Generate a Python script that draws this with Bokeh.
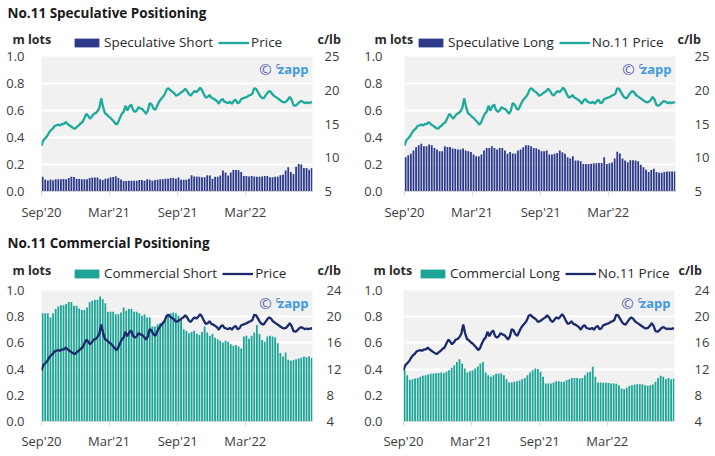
import pandas as pd
from bokeh.plotting import figure
from bokeh.layouts import column, row
from bokeh.models import (Range1d, LinearAxis, FixedTicker, Legend, LegendItem,
                          Label, PrintfTickFormatter, DatetimeTickFormatter)
from bokeh.embed import file_html
from bokeh.resources import INLINE

# ---------------- data ----------------
START = "2020-09-01"
X_END = "2022-08-28"

TICK_DATES = ["2020-09-01", "2021-03-01", "2021-09-01", "2022-03-01"]
TICK_LABELS = ["Sep'20", "Mar'21", "Sep'21", "Mar'22"]

LOT_TICKS = [0.0, 0.2, 0.4, 0.6, 0.8, 1.0]
PRICE_TICKS_TOP = [5, 10, 15, 20, 25]
PRICE_TICKS_BOTTOM = [4, 8, 12, 16, 20, 24]

# No.11 price, c/lb, one reading every 5 days from Sep'20
PRICE = [11.8, 12.6, 12.9, 13.2, 13.7, 14.1, 14.3, 14.7, 14.8, 14.9,
         14.8, 15.0, 15.0, 15.3, 15.0, 14.8, 14.6, 14.4, 14.3, 14.6,
         14.8, 15.1, 15.3, 15.9, 16.5, 16.2, 15.8, 16.1, 16.5, 16.6,
         16.9, 17.4, 18.8, 17.5, 16.6, 16.4, 16.1, 15.9, 15.6, 15.3,
         14.9, 15.2, 15.9, 16.5, 16.8, 17.7, 17.0, 17.6, 17.9, 17.1,
         16.8, 17.0, 17.5, 17.3, 17.2, 16.9, 16.5, 17.0, 18.1, 17.9,
         17.3, 17.1, 17.7, 18.3, 18.7, 19.0, 19.4, 20.1, 20.3, 20.0,
         19.8, 19.6, 19.2, 19.3, 19.5, 19.7, 19.9, 20.2, 19.9, 19.4,
         19.2, 19.6, 19.9, 19.7, 20.0, 20.4, 20.0, 19.4, 18.9, 19.0,
         19.3, 18.9, 18.8, 18.6, 18.4, 18.0, 18.5, 18.7, 18.3, 18.2,
         18.1, 18.3, 18.0, 18.4, 18.6, 18.1, 18.2, 18.7, 18.8, 18.9,
         19.0, 19.2, 19.3, 19.5, 20.3, 20.2, 19.7, 19.2, 18.9, 18.8,
         19.2, 19.6, 19.9, 19.7, 19.3, 19.1, 18.9, 18.7, 18.5, 18.3,
         18.2, 18.3, 18.6, 19.0, 18.6, 17.8, 17.7, 17.9, 18.2, 18.4,
         18.3, 18.1, 18.2, 18.1, 18.2, 18.2]

# weekly positions, million lots
SPEC_SHORT = [0.11, 0.088, 0.082, 0.088, 0.083, 0.09, 0.09, 0.09, 0.092, 0.09,
              0.10, 0.11, 0.108, 0.095, 0.093, 0.09, 0.09, 0.09, 0.10, 0.104,
              0.104, 0.104, 0.09, 0.086, 0.095, 0.097, 0.105, 0.108, 0.113, 0.10,
              0.088, 0.078, 0.078, 0.08, 0.08, 0.08, 0.08, 0.085, 0.085, 0.08,
              0.09, 0.087, 0.08, 0.085, 0.087, 0.09, 0.09, 0.095, 0.095, 0.10,
              0.10, 0.095, 0.104, 0.087, 0.087, 0.087, 0.095, 0.12, 0.112, 0.112,
              0.11, 0.105, 0.105, 0.12, 0.118, 0.095, 0.11, 0.11, 0.118, 0.155,
              0.14, 0.118, 0.14, 0.16, 0.16, 0.158, 0.145, 0.115, 0.115, 0.112,
              0.115, 0.112, 0.11, 0.11, 0.112, 0.115, 0.115, 0.105, 0.105, 0.11,
              0.11, 0.12, 0.124, 0.155, 0.18, 0.145, 0.13, 0.184, 0.204, 0.20,
              0.174, 0.174, 0.162, 0.174]

SPEC_LONG = [0.254, 0.269, 0.279, 0.303, 0.328, 0.343, 0.353, 0.336, 0.336, 0.348,
             0.343, 0.323, 0.311, 0.299, 0.299, 0.336, 0.33, 0.33, 0.318, 0.316,
             0.311, 0.311, 0.318, 0.303, 0.299, 0.293, 0.274, 0.261, 0.261, 0.274,
             0.303, 0.323, 0.323, 0.336, 0.323, 0.311, 0.323, 0.323, 0.303, 0.279,
             0.293, 0.281, 0.281, 0.303, 0.311, 0.328, 0.343, 0.343, 0.336, 0.323,
             0.32, 0.311, 0.299, 0.299, 0.303, 0.274, 0.274, 0.279, 0.286, 0.303,
             0.29, 0.28, 0.254, 0.244, 0.261, 0.229, 0.229, 0.224, 0.204, 0.204,
             0.204, 0.206, 0.209, 0.209, 0.211, 0.211, 0.254, 0.204, 0.209, 0.214,
             0.244, 0.294, 0.281, 0.244, 0.229, 0.216, 0.231, 0.231, 0.229, 0.224,
             0.199, 0.179, 0.162, 0.144, 0.159, 0.169, 0.144, 0.139, 0.139, 0.144,
             0.149, 0.149, 0.149, 0.149]

COMM_SHORT = [0.827, 0.827, 0.827, 0.794, 0.827, 0.858, 0.878, 0.888, 0.888, 0.896,
              0.913, 0.913, 0.883, 0.883, 0.863, 0.852, 0.852, 0.870, 0.913, 0.921,
              0.929, 0.929, 0.954, 0.934, 0.903, 0.837, 0.837, 0.837, 0.819, 0.819,
              0.832, 0.870, 0.845, 0.858, 0.858, 0.837, 0.837, 0.827, 0.807, 0.819,
              0.794, 0.794, 0.725, 0.725, 0.743, 0.751, 0.761, 0.776, 0.807, 0.827,
              0.832, 0.827, 0.807, 0.776, 0.705, 0.690, 0.674, 0.684, 0.692, 0.670,
              0.660, 0.684, 0.725, 0.680, 0.654, 0.667, 0.640, 0.628, 0.616, 0.603,
              0.616, 0.608, 0.590, 0.578, 0.583, 0.573, 0.557, 0.649, 0.654, 0.634,
              0.654, 0.679, 0.735, 0.667, 0.623, 0.608, 0.649, 0.654, 0.649, 0.641,
              0.598, 0.522, 0.496, 0.527, 0.471, 0.463, 0.470, 0.475, 0.481, 0.487,
              0.496, 0.490, 0.496, 0.485]

COMM_LONG = [0.392, 0.354, 0.316, 0.323, 0.328, 0.333, 0.341, 0.349, 0.354, 0.359,
             0.364, 0.366, 0.369, 0.371, 0.374, 0.369, 0.379, 0.392, 0.41, 0.43,
             0.455, 0.476, 0.443, 0.405, 0.374, 0.384, 0.392, 0.405, 0.42, 0.443,
             0.455, 0.374, 0.354, 0.341, 0.354, 0.364, 0.366, 0.366, 0.354, 0.323,
             0.298, 0.298, 0.303, 0.308, 0.313, 0.323, 0.333, 0.354, 0.374, 0.392,
             0.405, 0.40, 0.379, 0.341, 0.29, 0.29, 0.29, 0.298, 0.308, 0.308,
             0.303, 0.303, 0.316, 0.323, 0.333, 0.333, 0.333, 0.328, 0.333, 0.354,
             0.374, 0.379, 0.417, 0.341, 0.298, 0.298, 0.295, 0.295, 0.293, 0.29,
             0.29, 0.288, 0.277, 0.252, 0.247, 0.257, 0.272, 0.277, 0.282, 0.285,
             0.285, 0.285, 0.277, 0.272, 0.277, 0.282, 0.303, 0.333, 0.349, 0.341,
             0.323, 0.333, 0.323, 0.328]

# ---------------- styling ----------------
FONT = "Open Sans"
NAVY = "#2d3a8c"
NAVY_LINE = "#1b2a6b"
TEAL = "#1ca596"
TEAL_LINE = "#1eaa9a"
BG = "#f1f1f1"
TXT = "#3c3c3c"
LAB = "#2a2a2a"
TOTAL_W = 714

price_dates = pd.date_range(START, periods=len(PRICE), freq="5D")


def week_dates(n):
    return pd.date_range(START, periods=n, freq="7D") + pd.Timedelta(days=3)


tick_ms = [pd.Timestamp(d).value / 1e6 for d in TICK_DATES]
overrides = {t: lab for t, lab in zip(tick_ms, TICK_LABELS)}
BAR_W = 4.8 * 24 * 3600 * 1000


def lbl(p, text, x, y, size="13px", color=TXT, bold=False, align="left",
        units="screen"):
    p.add_layout(Label(x=x, y=y, x_units=units, y_units=units, text=text,
                       text_font=FONT, text_font_size=size, text_color=color,
                       text_font_style="bold" if bold else "normal",
                       text_align=align, text_baseline="middle"))


def header(height, title, title_y, specs):
    """Band above a row of charts: section title, unit labels and legends."""
    h = figure(width=TOTAL_W, height=height, x_range=Range1d(0, TOTAL_W),
               y_range=Range1d(0, height), output_backend="svg",
               toolbar_location=None, x_axis_location=None, y_axis_location=None,
               min_border=0)
    h.outline_line_color = None
    h.background_fill_color = "white"
    h.border_fill_color = "white"
    h.grid.visible = False
    if title:
        lbl(h, title, 7, title_y, size="13.5px", color="#1a1a1a", bold=True, units="data")
    for (lx, rx, ly, gx, gy, values, bl, bc, ll, lc) in specs:
        lbl(h, "m lots", lx, ly, size="12.5px", color=LAB, bold=True, units="data")
        lbl(h, "c/lb", rx, ly, size="12.5px", color=LAB, bold=True, units="data")
        # the series themselves, hidden here: they only give the legend its keys
        rb = h.vbar(x=week_dates(len(values)), top=values, width=1,
                    fill_color=bc, line_color=None, visible=False)
        rl = h.line(x=price_dates, y=PRICE, line_color=lc, line_width=2.3,
                    visible=False)
        leg = Legend(items=[LegendItem(label=bl, renderers=[rb]),
                            LegendItem(label=ll, renderers=[rl])],
                     location=(gx, gy), orientation="horizontal",
                     background_fill_alpha=0, border_line_alpha=0,
                     label_text_font=FONT, label_text_font_size="13.5px",
                     label_text_color=LAB, glyph_width=31, glyph_height=11,
                     label_height=12, label_standoff=2, spacing=5, padding=0,
                     margin=0, click_policy="none")
        h.add_layout(leg)
    return h


def panel(values, bar_color, line_color, prange, pticks, width, height,
          mb_left, mb_right, mb_top, mb_bottom, lstand, rstand, xstand):
    frame_w = 271
    frame_h = height - mb_top - mb_bottom
    p = figure(width=width, height=height, x_axis_type="datetime",
               x_range=Range1d(pd.Timestamp(START), pd.Timestamp(X_END)),
               y_range=Range1d(0, 1), output_backend="svg", toolbar_location=None,
               min_border_left=mb_left, min_border_right=mb_right,
               min_border_top=mb_top, min_border_bottom=mb_bottom)
    p.outline_line_color = None
    p.background_fill_color = BG
    p.border_fill_alpha = 0
    p.extra_y_ranges = {"price": Range1d(prange[0], prange[-1])}

    p.vbar(x=week_dates(len(values)), top=values, width=BAR_W,
           fill_color=bar_color, line_color=None)
    p.line(x=price_dates, y=PRICE, y_range_name="price",
           line_color=line_color, line_width=2.3)

    xa = p.xaxis[0]
    xa.ticker = FixedTicker(ticks=tick_ms)
    xa.formatter = DatetimeTickFormatter(days="%b'%y", months="%b'%y", years="%b'%y")
    xa.major_label_overrides = overrides
    xa.axis_line_color = "#d6d6d6"
    xa.major_tick_line_color = "#d6d6d6"
    xa.major_tick_out = 4
    xa.major_tick_in = 0
    xa.minor_tick_line_color = None
    xa.major_label_standoff = xstand
    xa.major_label_text_font = FONT
    xa.major_label_text_font_size = "13px"
    xa.major_label_text_color = TXT

    ya = p.yaxis[0]
    ya.ticker = FixedTicker(ticks=LOT_TICKS)
    ya.formatter = PrintfTickFormatter(format="%.1f")
    ya.axis_line_color = None
    ya.major_tick_line_color = None
    ya.minor_tick_line_color = None
    ya.major_label_standoff = lstand
    ya.major_label_text_font = FONT
    ya.major_label_text_font_size = "13px"
    ya.major_label_text_color = TXT

    ra = LinearAxis(y_range_name="price", ticker=FixedTicker(ticks=pticks))
    ra.axis_line_color = None
    ra.major_tick_line_color = None
    ra.minor_tick_line_color = None
    ra.major_label_standoff = rstand
    ra.major_label_text_font = FONT
    ra.major_label_text_font_size = "13px"
    ra.major_label_text_color = TXT
    p.add_layout(ra, "right")

    p.xgrid.grid_line_color = None
    p.ygrid.ticker = FixedTicker(ticks=LOT_TICKS)
    p.ygrid.grid_line_color = "white"
    p.ygrid.grid_line_width = 2

    # watermark
    lbl(p, "©", frame_w - 47, frame_h - 12, size="15px", color="#5a62ad", align="center")
    lbl(p, "c", frame_w - 34.5, frame_h - 9, size="9px", color="#5a62ad",
        align="center")
    lbl(p, "zapp", frame_w - 4, frame_h - 12, size="13px", color="#3d9be0",
        bold=True, align="right")
    return p


h1 = header(51, "No.11 Speculative Positioning", 39,
            [(12, 317, 12, 71, 0, SPEC_SHORT, "Speculative Short", NAVY, "Price", TEAL_LINE),
             (374, 677, 12, 415, 0, SPEC_LONG, "Speculative Long", NAVY, "No.11 Price", TEAL_LINE)])
p1 = panel(SPEC_SHORT, NAVY, TEAL_LINE, [5, 25], PRICE_TICKS_TOP,
           360, 177, 41, 48, 9, 33, 11, 6, 7)
p2 = panel(SPEC_LONG, NAVY, TEAL_LINE, [5, 25], PRICE_TICKS_TOP,
           354, 177, 44, 39, 9, 33, 16, 13, 7)
h2 = header(59, "No.11 Commercial Positioning", 41,
            [(12, 317, 13, 71, 1, COMM_SHORT, "Commercial Short", TEAL, "Price", NAVY_LINE),
             (373, 678, 13, 417, 1, COMM_LONG, "Commercial Long", TEAL, "No.11 Price", NAVY_LINE)])
p3 = panel(COMM_SHORT, TEAL, NAVY_LINE, [4, 24], PRICE_TICKS_BOTTOM,
           360, 176, 41, 48, 11, 34, 11, 8, 6)
p4 = panel(COMM_LONG, TEAL, NAVY_LINE, [4, 24], PRICE_TICKS_BOTTOM,
           354, 176, 43, 40, 11, 34, 15, 14, 6)

layout = column(h1, row(p1, p2, margin=(-4, 0, 0, 0)),
                h2, row(p3, p4, margin=(-4, 0, 0, 0)))
open("out.html", "w").write(file_html(layout, INLINE))
